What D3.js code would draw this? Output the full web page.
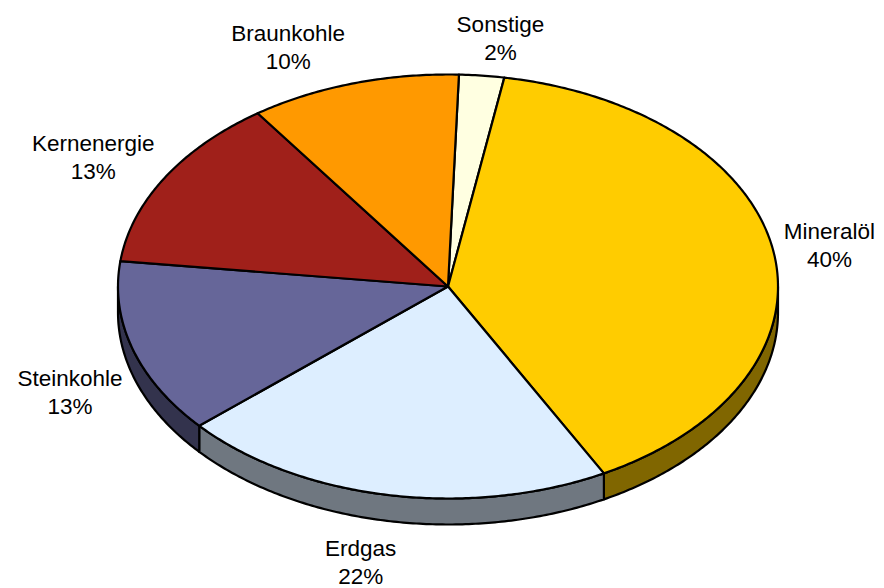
<!DOCTYPE html>
<html>
<head>
<meta charset="utf-8">
<script src="https://cdn.jsdelivr.net/npm/d3@7"></script>
<style>
  body { margin: 0; background: #fff; }
  text { font-family: "Liberation Sans", Arial, sans-serif; font-size: 22.5px; fill: #000; }
</style>
</head>
<body>
<div id="chart"></div>
<script>
// shares of primary energy consumption (clockwise from 12 o'clock)
var categories = ["Sonstige", "Mineralöl", "Erdgas", "Steinkohle", "Kernenergie", "Braunkohle"];
var values = [2.2, 39.4, 21.4, 13.3, 13.3, 10.3];
var pctLabels = ["2%", "40%", "22%", "13%", "13%", "10%"];

var topColors = ["#FFFFE1", "#FFCC00", "#DDEEFF", "#666699", "#A0201A", "#FF9900"];
var sideColors = ["#808070", "#806600", "#6F7780", "#33334D", "#50100D", "#804D00"];

var width = 884, height = 588,
    cx = 448, cy = 286.5,   // pie centre
    rx = 330, ry = 212,     // tilted ellipse radii
    depth = 26,             // thickness of the disc
    startAngle = 1.9 * Math.PI / 180;

var svg = d3.select("#chart").append("svg")
  .attr("width", width)
  .attr("height", height);

// unit circle -> screen ellipse
var xScale = d3.scaleLinear().domain([-1, 1]).range([cx - rx, cx + rx]);
var yScale = d3.scaleLinear().domain([-1, 1]).range([cy - ry, cy + ry]);

var color = d3.scaleOrdinal().domain(categories).range(topColors);
var sideColor = d3.scaleOrdinal().domain(categories).range(sideColors);

var pie = d3.pie().sort(null).value(function (d) { return d.value; })
  .startAngle(startAngle).endAngle(startAngle + 2 * Math.PI);

var data = categories.map(function (c, i) { return {name: c, value: values[i], label: pctLabels[i]}; });
var arcs = pie(data);

function pt(t, dz) {
  return [xScale(Math.sin(t)), yScale(-Math.cos(t)) + (dz || 0)];
}

function arcPoints(a, b, dz) {
  var n = Math.max(2, Math.ceil((b - a) / 0.01));
  return d3.range(n + 1).map(function (i) { return pt(a + (b - a) * i / n, dz); });
}

var line = d3.line();

// side walls: only the front half (90deg .. 270deg) is visible
var sides = svg.append("g");
arcs.forEach(function (d) {
  var a = Math.max(d.startAngle, Math.PI / 2),
      b = Math.min(d.endAngle, 3 * Math.PI / 2);
  if (b <= a) return;
  var pts = arcPoints(a, b, 0).concat(arcPoints(a, b, depth).reverse());
  sides.append("path")
    .attr("d", line(pts) + "Z")
    .attr("fill", sideColor(d.data.name))
    .attr("stroke", "#000")
    .attr("stroke-width", 2.2)
    .attr("stroke-linejoin", "round");
});

// top faces
var tops = svg.append("g");
arcs.forEach(function (d) {
  var pts = [[cx, cy]].concat(arcPoints(d.startAngle, d.endAngle, 0));
  tops.append("path")
    .attr("d", line(pts) + "Z")
    .attr("fill", color(d.data.name))
    .attr("stroke", "#000")
    .attr("stroke-width", 2.2)
    .attr("stroke-linejoin", "round");
});

// labels outside the edge, box touching the rim
var labels = svg.append("g");
arcs.forEach(function (d) {
  var mid = (d.startAngle + d.endAngle) / 2,
      s = Math.sin(mid), c = Math.cos(mid),
      front = c < 0,
      p = pt(mid, front ? depth : 0),
      gap = 10, h = 50;

  var t = labels.append("text").attr("text-anchor", "middle");
  var l1 = t.append("tspan").attr("x", 0).attr("y", 0).text(d.data.name);
  var l2 = t.append("tspan").attr("x", 0).attr("y", 28).text(d.data.label);
  var w = t.node().getBBox().width;

  var sx = Math.max(-1, Math.min(1, s * 3.4)),
      sy = -c;
  var xc = p[0] + sx * (w / 2 + gap),
      yc = p[1] + sy * (h / 2 + gap) + (front ? 9 : 0);

  l1.attr("x", xc).attr("y", yc - 8.5);
  l2.attr("x", xc).attr("y", yc + 19.5);
});
</script>
</body>
</html>
